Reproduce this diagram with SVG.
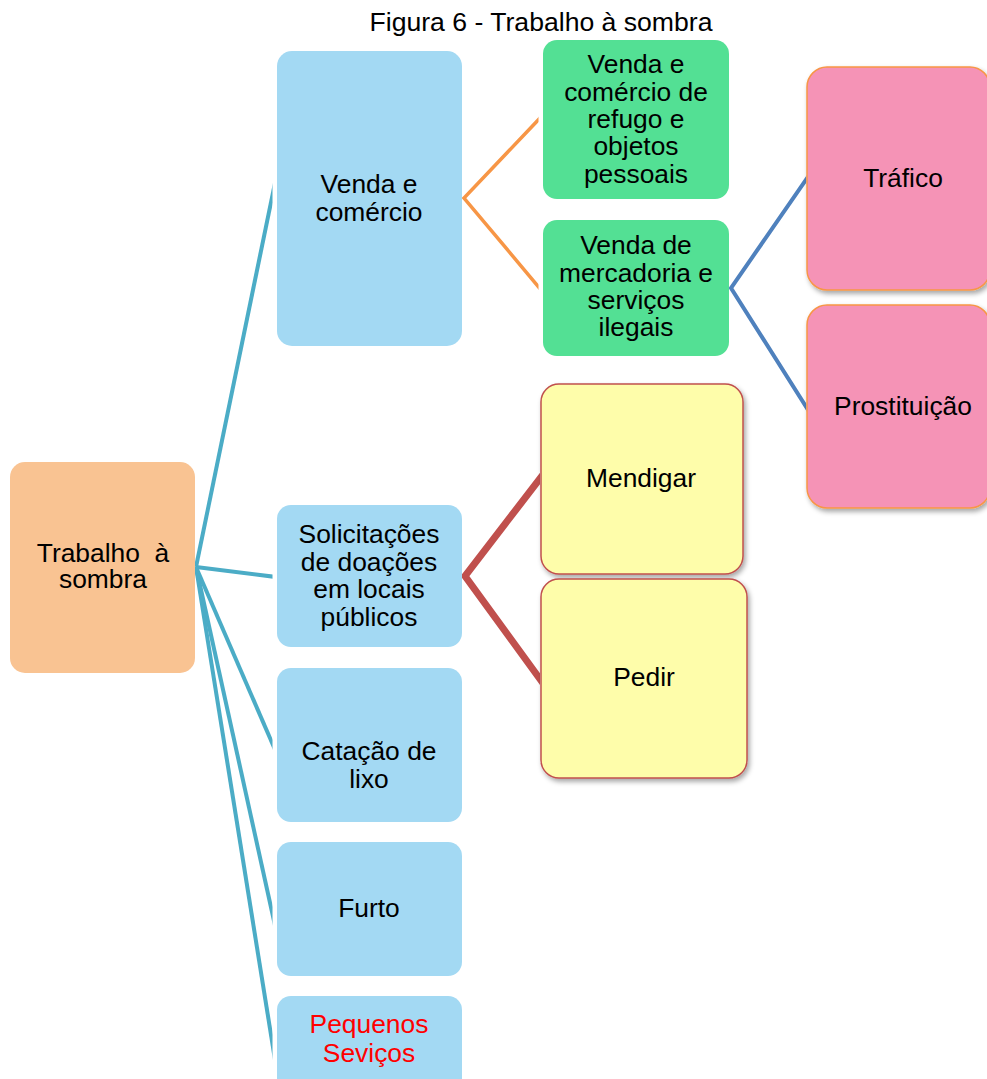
<svg xmlns="http://www.w3.org/2000/svg" width="987" height="1079" viewBox="0 0 987 1079">
  <style>
    text { font-family: "Liberation Sans", Arial, sans-serif; font-size: 26.4px; fill: #000; text-anchor: middle; }
    .title { font-size: 26.6px; }
    .root { fill: #F9C392; }
    .l1 { fill: #A3D9F3; }
    .green { fill: #53E094; }
    .pink { fill: #F593B6; stroke: #F79646; stroke-width: 1.5; }
    .yellow { fill: #FEFDAA; stroke: #C0504D; stroke-width: 1.5; }
    .red { fill: #FF0000; }
    .c-teal { stroke: #4BACC6; stroke-width: 4; fill: none; }
    .c-orange { stroke: #F79646; stroke-width: 3.5; fill: none; }
    .c-blue { stroke: #4F81BD; stroke-width: 4; fill: none; }
    .c-red { stroke: #C0504D; stroke-width: 7; fill: none; }
  </style>
  <defs>
    <filter id="shadow" x="-10%" y="-10%" width="130%" height="130%">
      <feDropShadow dx="2" dy="3" stdDeviation="2.5" flood-color="#000" flood-opacity="0.35"/>
    </filter>
    <clipPath id="clipTeal"><rect x="0" y="0" width="272.5" height="1079"/></clipPath>
    <clipPath id="clipOrange"><rect x="0" y="0" width="538.5" height="1079"/></clipPath>
    <clipPath id="clipBlue"><rect x="0" y="0" width="806.5" height="1079"/></clipPath>
    <clipPath id="clipRed"><rect x="0" y="0" width="540" height="1079"/></clipPath>
  </defs>

  <text class="title" x="541" y="31">Figura 6 - Trabalho à sombra</text>

  <g id="connectors">
    <g clip-path="url(#clipTeal)">
      <path class="c-teal" d="M196,567 L276,178"/>
      <path class="c-teal" d="M196,567 L276,577"/>
      <path class="c-teal" d="M196,567 L276,752"/>
      <path class="c-teal" d="M196,567 L276,930"/>
      <path class="c-teal" d="M196,567 L276,1066"/>
    </g>
    <path class="c-orange" clip-path="url(#clipOrange)" d="M542,116 L464,198 L542,291"/>
    <path class="c-blue" clip-path="url(#clipBlue)" d="M810,174 L731,288 L810,413"/>
    <path class="c-red" clip-path="url(#clipRed)" d="M545,472 L465,576 L545,686"/>
  </g>

  <g id="root">
    <rect class="root" x="10" y="462" width="185" height="211" rx="15"/>
    <text x="103" y="562">Trabalho&#160; à</text>
    <text x="103" y="588">sombra</text>
  </g>

  <g id="venda-comercio">
    <rect class="l1" x="277" y="51" width="185" height="295" rx="15"/>
    <text x="369" y="193">Venda e</text>
    <text x="369" y="221">comércio</text>
  </g>

  <g id="solicitacoes">
    <rect class="l1" x="277" y="505" width="185" height="142" rx="14"/>
    <text x="369" y="543">Solicitações</text>
    <text x="369" y="571">de doações</text>
    <text x="369" y="598">em locais</text>
    <text x="369" y="626">públicos</text>
  </g>

  <g id="catacao">
    <rect class="l1" x="277" y="668" width="185" height="154" rx="14"/>
    <text x="369" y="760">Catação de</text>
    <text x="369" y="788">lixo</text>
  </g>

  <g id="furto">
    <rect class="l1" x="277" y="842" width="185" height="134" rx="14"/>
    <text x="369" y="917">Furto</text>
  </g>

  <g id="pequenos-servicos">
    <rect class="l1" x="277" y="996" width="185" height="110" rx="14"/>
    <text class="red" x="369" y="1033">Pequenos</text>
    <text class="red" x="369" y="1062">Seviços</text>
  </g>

  <g id="venda-refugo">
    <rect class="green" x="543" y="40" width="186" height="159" rx="14"/>
    <text x="636" y="73">Venda e</text>
    <text x="636" y="101">comércio de</text>
    <text x="636" y="128">refugo e</text>
    <text x="636" y="155">objetos</text>
    <text x="636" y="183">pessoais</text>
  </g>

  <g id="venda-ilegais">
    <rect class="green" x="543" y="220" width="186" height="136" rx="14"/>
    <text x="636" y="254">Venda de</text>
    <text x="636" y="282">mercadoria e</text>
    <text x="636" y="309">serviços</text>
    <text x="636" y="336">ilegais</text>
  </g>

  <g id="trafico">
    <rect class="pink" x="807" y="67" width="183" height="223" rx="20" filter="url(#shadow)"/>
    <text x="903" y="187">Tráfico</text>
  </g>

  <g id="prostituicao">
    <rect class="pink" x="807" y="305" width="183" height="203" rx="20" filter="url(#shadow)"/>
    <text x="903" y="415">Prostituição</text>
  </g>

  <g id="mendigar">
    <rect class="yellow" x="541" y="384" width="202" height="190" rx="18" filter="url(#shadow)"/>
    <text x="641" y="487">Mendigar</text>
  </g>

  <g id="pedir">
    <rect class="yellow" x="541" y="579" width="206" height="199" rx="18" filter="url(#shadow)"/>
    <text x="644" y="686">Pedir</text>
  </g>
</svg>
